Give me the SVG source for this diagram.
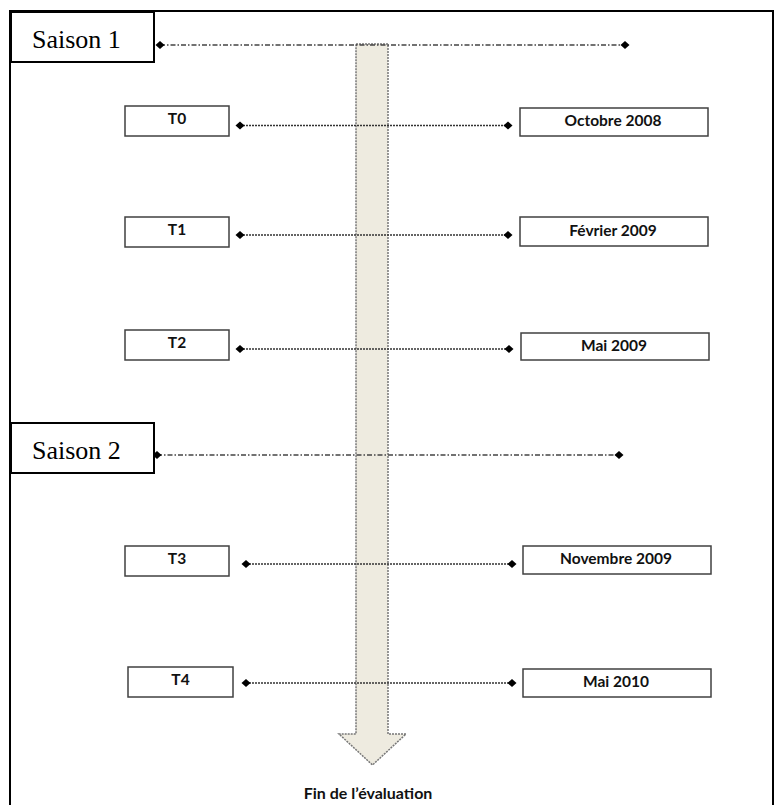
<svg xmlns="http://www.w3.org/2000/svg" width="776" height="805" viewBox="0 0 776 805">
<defs>
<style>
.frame{fill:none;stroke:#000;stroke-width:2}
.season rect{fill:#fff;stroke:#000;stroke-width:2}
.season text{font-family:"Liberation Serif","Times New Roman",serif;font-size:26px;fill:#000}
.box rect{fill:#fff;stroke:#404040;stroke-width:1.5}
.box text{font-family:Lato,"Open Sans","Liberation Sans",sans-serif;font-weight:bold;font-size:15.5px;fill:#111;text-anchor:middle}
.dashdot{stroke:#444;stroke-width:1.5;stroke-dasharray:5 2 1.5 2;fill:none}
.dotted{stroke:#333;stroke-width:1.5;stroke-dasharray:2 1;fill:none}
.arrow{fill:#eeebe0;stroke:#777;stroke-width:1.5;stroke-dasharray:2 1}
.caption{font-family:Lato,"Open Sans","Liberation Sans",sans-serif;font-weight:bold;font-size:16px;fill:#111;text-anchor:middle}
</style>
<marker id="dia" viewBox="-5 -5 10 10" markerWidth="10" markerHeight="10" markerUnits="userSpaceOnUse" orient="auto">
<path d="M-4.5 0L0-4L4.5 0L0 4Z" fill="#000"/>
</marker>
</defs>
<rect width="776" height="805" fill="#fff"/>
<path class="frame" d="M10 805V11H773V805"/>
<g id="timeline-arrow">
<path class="arrow" d="M356 44H388V734H406L372.5 765L339 734H356Z"/>
</g>
<g id="connectors">
<line class="dashdot" x1="160" y1="45" x2="625" y2="45" marker-start="url(#dia)" marker-end="url(#dia)"/>
<line class="dotted" x1="240" y1="125.5" x2="508" y2="125.5" marker-start="url(#dia)" marker-end="url(#dia)"/>
<line class="dotted" x1="240" y1="235" x2="508" y2="235" marker-start="url(#dia)" marker-end="url(#dia)"/>
<line class="dotted" x1="240" y1="349" x2="509" y2="349" marker-start="url(#dia)" marker-end="url(#dia)"/>
<line class="dashdot" x1="157" y1="455" x2="619" y2="455" marker-start="url(#dia)" marker-end="url(#dia)"/>
<line class="dotted" x1="246" y1="564" x2="512" y2="564" marker-start="url(#dia)" marker-end="url(#dia)"/>
<line class="dotted" x1="246" y1="683" x2="512" y2="683" marker-start="url(#dia)" marker-end="url(#dia)"/>
</g>
<g id="saison1" class="season"><rect x="11" y="12" width="143" height="50"/><text x="32" y="48">Saison 1</text></g>
<g id="saison2" class="season"><rect x="11" y="423" width="143" height="50"/><text x="32" y="459">Saison 2</text></g>
<g id="t0" class="box"><rect x="125" y="106" width="104" height="30"/><text x="177" y="124">T0</text></g>
<g id="t1" class="box"><rect x="125" y="217" width="104" height="30"/><text x="177" y="235">T1</text></g>
<g id="t2" class="box"><rect x="125" y="330" width="104" height="30"/><text x="177" y="348">T2</text></g>
<g id="t3" class="box"><rect x="125" y="546" width="104" height="30"/><text x="177" y="564">T3</text></g>
<g id="t4" class="box"><rect x="128" y="667" width="105" height="30"/><text x="180.5" y="685">T4</text></g>
<g id="d0" class="box"><rect x="520" y="108" width="188" height="28"/><text x="613" y="126">Octobre 2008</text></g>
<g id="d1" class="box"><rect x="520" y="217" width="188" height="29"/><text x="613" y="236">Février 2009</text></g>
<g id="d2" class="box"><rect x="521" y="333" width="188" height="27"/><text x="614" y="351">Mai 2009</text></g>
<g id="d3" class="box"><rect x="523" y="546" width="188" height="28"/><text x="616" y="564">Novembre 2009</text></g>
<g id="d4" class="box"><rect x="523" y="669" width="188" height="28"/><text x="616" y="687">Mai 2010</text></g>
<g id="end"><text class="caption" x="368" y="799">Fin de l’évaluation</text></g>
</svg>
